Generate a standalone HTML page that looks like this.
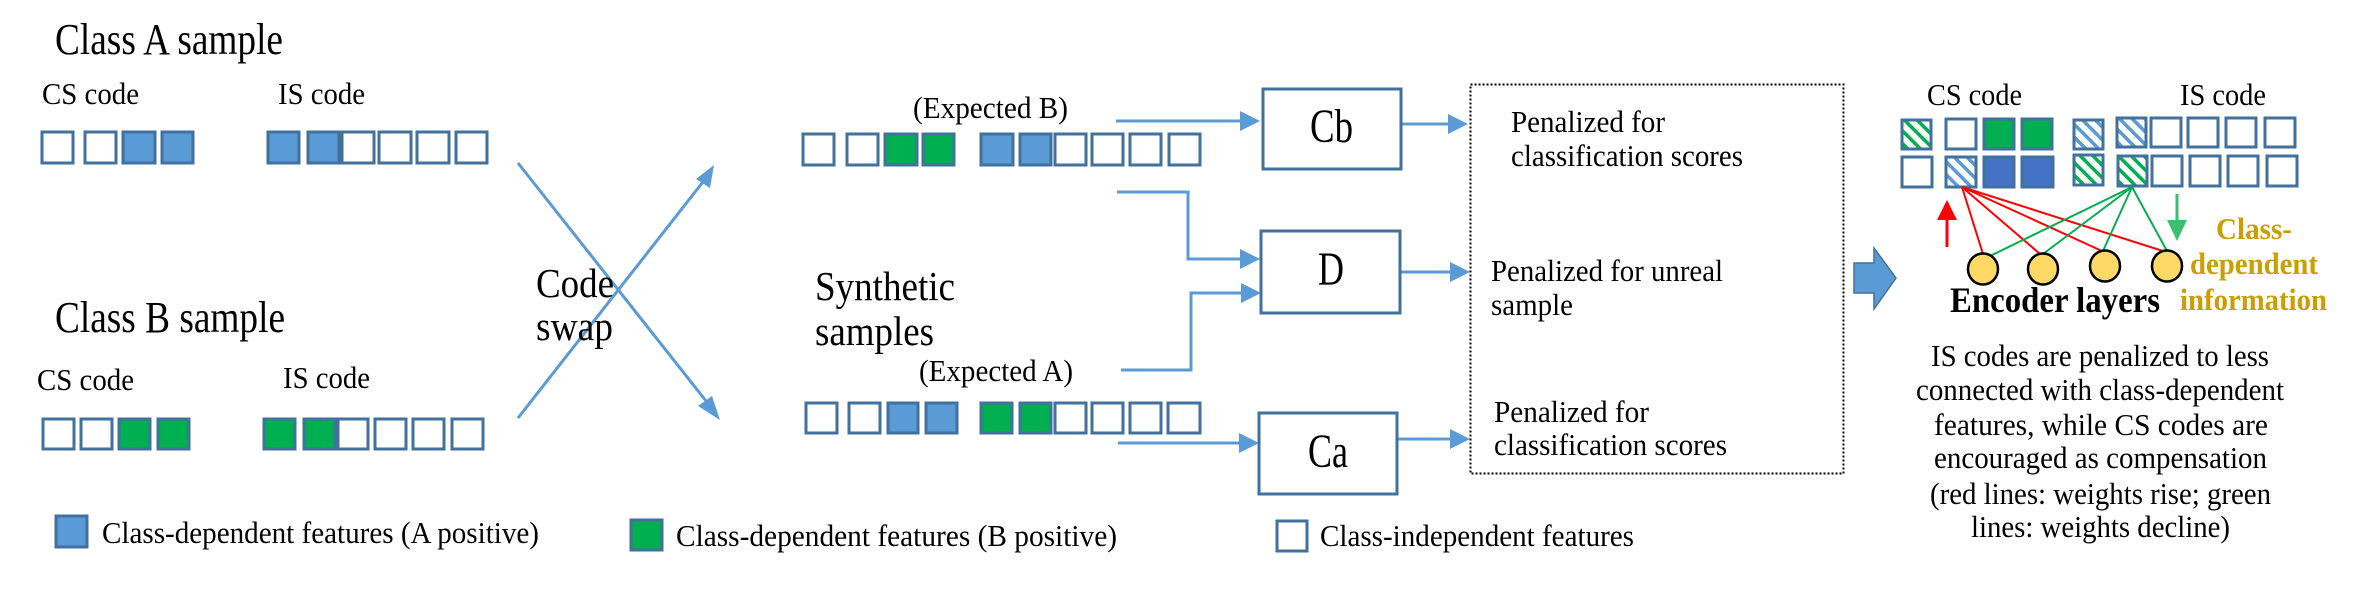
<!DOCTYPE html>
<html><head><meta charset="utf-8"><style>
html,body{margin:0;padding:0;background:#fff;}
svg{display:block;}
svg text{font-family:"Liberation Serif","DejaVu Serif",serif !important;}
</style></head><body>
<svg width="2367" height="591" viewBox="0 0 2367 591" xmlns="http://www.w3.org/2000/svg" style="font-family:'Liberation Serif',serif">
<defs>
<pattern id="hg" width="9" height="9" patternUnits="userSpaceOnUse" patternTransform="rotate(-45)">
<rect width="9" height="9" fill="#fff"/><rect x="0" y="0" width="3.5" height="9" fill="#00b050"/></pattern>
<pattern id="hb" width="9" height="9" patternUnits="userSpaceOnUse" patternTransform="rotate(-45)">
<rect width="9" height="9" fill="#fff"/><rect x="0" y="0" width="3.5" height="9" fill="#5b9bd5"/></pattern>
</defs>

<text x="55" y="54" font-size="44" textLength="228" lengthAdjust="spacingAndGlyphs">Class A sample</text>
<text x="42" y="104" font-size="31" textLength="97" lengthAdjust="spacingAndGlyphs">CS code</text>
<text x="278" y="104" font-size="31" textLength="87" lengthAdjust="spacingAndGlyphs">IS code</text>
<g stroke="#41719c" stroke-width="3">
<rect x="42" y="132" width="31" height="31" fill="#fff"/>
<rect x="85" y="132" width="31" height="31" fill="#fff"/>
<rect x="123" y="132" width="32" height="31" fill="#5b9bd5"/>
<rect x="162" y="132" width="31" height="31" fill="#5b9bd5"/>
<rect x="268" y="132" width="31" height="31" fill="#5b9bd5"/>
<rect x="308" y="132" width="31" height="31" fill="#5b9bd5"/>
<rect x="342" y="132" width="32" height="31" fill="#fff"/>
<rect x="379" y="132" width="32" height="31" fill="#fff"/>
<rect x="417" y="132" width="32" height="31" fill="#fff"/>
<rect x="456" y="132" width="31" height="31" fill="#fff"/>
</g>
<text x="55" y="332" font-size="44" textLength="230" lengthAdjust="spacingAndGlyphs">Class B sample</text>
<text x="37" y="390" font-size="31" textLength="97" lengthAdjust="spacingAndGlyphs">CS code</text>
<text x="283" y="388" font-size="31" textLength="87" lengthAdjust="spacingAndGlyphs">IS code</text>
<g stroke="#41719c" stroke-width="3">
<rect x="43" y="419" width="31" height="30" fill="#fff"/>
<rect x="81" y="419" width="31" height="30" fill="#fff"/>
<rect x="119" y="419" width="31" height="30" fill="#00b050"/>
<rect x="158" y="419" width="31" height="30" fill="#00b050"/>
<rect x="264" y="419" width="31" height="30" fill="#00b050"/>
<rect x="304" y="419" width="31" height="30" fill="#00b050"/>
<rect x="338" y="419" width="30" height="30" fill="#fff"/>
<rect x="375" y="419" width="31" height="30" fill="#fff"/>
<rect x="413" y="419" width="31" height="30" fill="#fff"/>
<rect x="452" y="419" width="31" height="30" fill="#fff"/>
</g>
<g stroke="#5b9bd5" stroke-width="3" fill="#5b9bd5">
<line x1="518" y1="163" x2="710" y2="406"/>
<polygon points="720,420 698,406 712,396" stroke="none"/>
<line x1="518" y1="418" x2="706" y2="178"/>
<polygon points="714,165 710,188 696,179" stroke="none"/>
</g>
<text x="536" y="297" font-size="41" textLength="78" lengthAdjust="spacingAndGlyphs">Code</text>
<text x="536" y="340" font-size="41" textLength="77" lengthAdjust="spacingAndGlyphs">swap</text>

<rect x="56" y="516" width="31" height="31" fill="#5b9bd5" stroke="#41719c" stroke-width="3"/>
<text x="102" y="543" font-size="31" textLength="437" lengthAdjust="spacingAndGlyphs">Class-dependent features (A positive)</text>
<rect x="631" y="520" width="31" height="30" fill="#00b050" stroke="#41719c" stroke-width="3"/>
<text x="676" y="546" font-size="31" textLength="441" lengthAdjust="spacingAndGlyphs">Class-dependent features (B positive)</text>
<rect x="1277" y="521" width="30" height="30" fill="#fff" stroke="#41719c" stroke-width="3"/>
<text x="1320" y="546" font-size="31" textLength="314" lengthAdjust="spacingAndGlyphs">Class-independent features</text>

<text x="913" y="118" font-size="31" textLength="155" lengthAdjust="spacingAndGlyphs">(Expected B)</text>
<g stroke="#41719c" stroke-width="3">
<rect x="803" y="134" width="31" height="31" fill="#fff"/>
<rect x="847" y="134" width="31" height="31" fill="#fff"/>
<rect x="885" y="134" width="32" height="31" fill="#00b050"/>
<rect x="923" y="134" width="31" height="31" fill="#00b050"/>
<rect x="981" y="134" width="32" height="31" fill="#5b9bd5"/>
<rect x="1020" y="134" width="31" height="31" fill="#5b9bd5"/>
<rect x="1055" y="134" width="31" height="31" fill="#fff"/>
<rect x="1092" y="134" width="31" height="31" fill="#fff"/>
<rect x="1130" y="134" width="31" height="31" fill="#fff"/>
<rect x="1169" y="134" width="31" height="31" fill="#fff"/>
</g>
<text x="815" y="300" font-size="41" textLength="140" lengthAdjust="spacingAndGlyphs">Synthetic</text>
<text x="815" y="345" font-size="41" textLength="119" lengthAdjust="spacingAndGlyphs">samples</text>
<text x="919" y="381" font-size="31" textLength="154" lengthAdjust="spacingAndGlyphs">(Expected A)</text>
<g stroke="#41719c" stroke-width="3">
<rect x="806" y="403" width="31" height="30" fill="#fff"/>
<rect x="849" y="403" width="31" height="30" fill="#fff"/>
<rect x="888" y="403" width="30" height="30" fill="#5b9bd5"/>
<rect x="926" y="403" width="31" height="30" fill="#5b9bd5"/>
<rect x="981" y="403" width="31" height="30" fill="#00b050"/>
<rect x="1020" y="403" width="31" height="30" fill="#00b050"/>
<rect x="1055" y="403" width="31" height="30" fill="#fff"/>
<rect x="1092" y="403" width="31" height="30" fill="#fff"/>
<rect x="1130" y="403" width="31" height="30" fill="#fff"/>
<rect x="1168" y="403" width="32" height="30" fill="#fff"/>
</g>

<g stroke="#5b9bd5" stroke-width="3" fill="none">
<line x1="1116" y1="121" x2="1248" y2="121"/>
<polyline points="1117,192 1188,192 1188,259 1248,259"/>
<polyline points="1121,370 1191,370 1191,293 1249,293"/>
<line x1="1118" y1="443" x2="1247" y2="443"/>
<line x1="1401" y1="124" x2="1456" y2="124"/>
<line x1="1400" y1="272" x2="1458" y2="272"/>
<line x1="1397" y1="439" x2="1458" y2="439"/>
</g>
<g fill="#5b9bd5">
<polygon points="1260,121 1240,111 1240,131"/>
<polygon points="1260,259 1240,249 1240,269"/>
<polygon points="1261,293 1241,283 1241,303"/>
<polygon points="1259,443 1239,433 1239,453"/>
<polygon points="1468,124 1448,114 1448,134"/>
<polygon points="1470,272 1450,262 1450,282"/>
<polygon points="1470,439 1450,429 1450,449"/>
</g>
<g stroke="#41719c" stroke-width="3" fill="#fff">
<rect x="1263" y="89" width="138" height="80"/>
<rect x="1261" y="231" width="139" height="82"/>
<rect x="1259" y="413" width="138" height="81"/>
</g>
<text x="1310" y="142" font-size="48" textLength="43" lengthAdjust="spacingAndGlyphs">Cb</text>
<text x="1318" y="285" font-size="48" textLength="26" lengthAdjust="spacingAndGlyphs">D</text>
<text x="1308" y="467" font-size="48" textLength="40" lengthAdjust="spacingAndGlyphs">Ca</text>

<rect x="1470.5" y="84.5" width="373" height="389" fill="none" stroke="#000" stroke-width="2" stroke-dasharray="2,2"/>
<text x="1511" y="132" font-size="31" textLength="154" lengthAdjust="spacingAndGlyphs">Penalized for</text>
<text x="1511" y="166" font-size="31" textLength="232" lengthAdjust="spacingAndGlyphs">classification scores</text>
<text x="1491" y="281" font-size="31" textLength="232" lengthAdjust="spacingAndGlyphs">Penalized for unreal</text>
<text x="1491" y="315" font-size="31" textLength="82" lengthAdjust="spacingAndGlyphs">sample</text>
<text x="1494" y="422" font-size="31" textLength="155" lengthAdjust="spacingAndGlyphs">Penalized for</text>
<text x="1494" y="455" font-size="31" textLength="233" lengthAdjust="spacingAndGlyphs">classification scores</text>

<polygon points="1854,263 1874,263 1874,248 1896,278 1874,309 1874,293 1854,293" fill="#5b9bd5" stroke="#41719c" stroke-width="1.5"/>

<text x="1927" y="105" font-size="31" textLength="95" lengthAdjust="spacingAndGlyphs">CS code</text>
<text x="2180" y="105" font-size="31" textLength="86" lengthAdjust="spacingAndGlyphs">IS code</text>
<g stroke="#41719c" stroke-width="3">
<rect x="1902" y="120" width="29" height="29" fill="url(#hg)"/>
<rect x="1946" y="119" width="30" height="30" fill="#fff"/>
<rect x="1984" y="119" width="30" height="30" fill="#00b050"/>
<rect x="2022" y="119" width="30" height="30" fill="#00b050"/>
<rect x="2074" y="120" width="29" height="29" fill="url(#hb)"/>
<rect x="2117" y="118" width="29" height="29" fill="url(#hb)"/>
<rect x="2151" y="118" width="30" height="29" fill="#fff"/>
<rect x="2188" y="118" width="30" height="29" fill="#fff"/>
<rect x="2226" y="118" width="30" height="29" fill="#fff"/>
<rect x="2265" y="118" width="30" height="29" fill="#fff"/>
<rect x="1902" y="157" width="30" height="30" fill="#fff"/>
<rect x="1946" y="157" width="30" height="30" fill="url(#hb)"/>
<rect x="1984" y="157" width="30" height="30" fill="#4472c4"/>
<rect x="2022" y="157" width="31" height="30" fill="#4472c4"/>
<rect x="2074" y="155" width="29" height="30" fill="url(#hg)"/>
<rect x="2118" y="156" width="29" height="30" fill="url(#hg)"/>
<rect x="2152" y="156" width="30" height="30" fill="#fff"/>
<rect x="2190" y="156" width="30" height="30" fill="#fff"/>
<rect x="2228" y="156" width="30" height="30" fill="#fff"/>
<rect x="2267" y="156" width="30" height="30" fill="#fff"/>
</g>
<g stroke="#ff0000" stroke-width="2">
<line x1="1962" y1="187" x2="1983" y2="254"/>
<line x1="1962" y1="187" x2="2040" y2="254"/>
<line x1="1962" y1="187" x2="2102" y2="251"/>
<line x1="1962" y1="187" x2="2163" y2="251"/>
</g>
<g stroke="#00b050" stroke-width="2">
<line x1="2132" y1="187" x2="1990" y2="256"/>
<line x1="2132" y1="187" x2="2043" y2="254"/>
<line x1="2132" y1="187" x2="2103" y2="251"/>
<line x1="2132" y1="187" x2="2167" y2="251"/>
</g>
<g fill="#ffd966" stroke="#000" stroke-width="2.5">
<ellipse cx="1983" cy="269" rx="15" ry="15.5"/>
<ellipse cx="2043" cy="269" rx="15" ry="15.5"/>
<ellipse cx="2105" cy="266" rx="15" ry="15.5"/>
<ellipse cx="2167" cy="266" rx="15" ry="15.5"/>
</g>
<line x1="1947" y1="218" x2="1947" y2="247" stroke="#ff0000" stroke-width="3"/>
<polygon points="1947,200 1937,220 1957,220" fill="#ff0000"/>
<line x1="2177" y1="194" x2="2177" y2="222" stroke="#3cbf6e" stroke-width="3"/>
<polygon points="2177,241 2167,220 2187,220" fill="#3cbf6e"/>
<text x="1950" y="312" font-size="36" font-weight="bold" textLength="210" lengthAdjust="spacingAndGlyphs">Encoder layers</text>
<g fill="#c9a000" font-size="31" font-weight="bold">
<text x="2216" y="239" textLength="76" lengthAdjust="spacingAndGlyphs">Class-</text>
<text x="2190" y="274" textLength="128" lengthAdjust="spacingAndGlyphs">dependent</text>
<text x="2180" y="310" textLength="147" lengthAdjust="spacingAndGlyphs">information</text>
</g>
<g font-size="31">
<text x="1931" y="366" textLength="338" lengthAdjust="spacingAndGlyphs">IS codes are penalized to less</text>
<text x="1916" y="400" textLength="368" lengthAdjust="spacingAndGlyphs">connected with class-dependent</text>
<text x="1934" y="435" textLength="334" lengthAdjust="spacingAndGlyphs">features,  while CS codes are</text>
<text x="1934" y="468" textLength="333" lengthAdjust="spacingAndGlyphs">encouraged as compensation</text>
<text x="1930" y="504" textLength="341" lengthAdjust="spacingAndGlyphs">(red lines: weights rise; green</text>
<text x="1971" y="537" textLength="259" lengthAdjust="spacingAndGlyphs">lines: weights decline)</text>
</g>
</svg>
</body></html>
